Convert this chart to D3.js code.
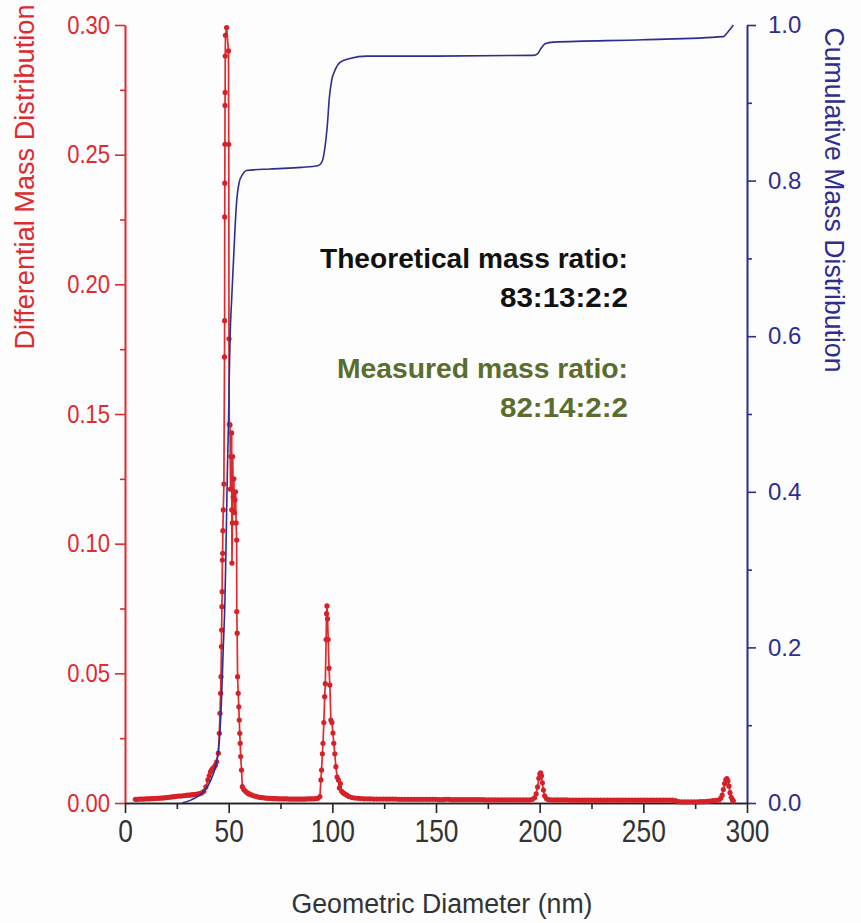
<!DOCTYPE html>
<html>
<head>
<meta charset="utf-8">
<script src="https://cdn.jsdelivr.net/npm/d3@7"></script>
<style>
  body { margin: 0; background: #fdfdfd; }
  svg { display: block; }
</style>
</head>
<body>
<div id="chart"></div>
<script>
// Differential mass distribution, [diameter nm, value]
const diffBaseLeft = [
  [5,0.0014],[6,0.0014],[7,0.0015],[8,0.0015],[9,0.0015],[10,0.0016],[11,0.0016],[12,0.0016],
  [13,0.0017],[14,0.0017],[15,0.0018],[16,0.0018],[17,0.0019],[18,0.0019],[19,0.002],[20,0.0021],
  [21,0.0022],[22,0.0023],[23,0.0024],[24,0.0025],[25,0.0026],[26,0.0027],[27,0.0027],[28,0.0028],
  [29,0.0029],[30,0.003],[31,0.003],[32,0.0031],[33,0.0032],[34,0.0033],[35,0.0034],[36,0.0036],
  [37,0.0039],[38,0.0045],[39,0.0062],[40,0.0089],[40.6,0.0105],[41.2,0.012],[41.8,0.0128],
  [42.4,0.0134],[43,0.0138],[43.6,0.0146]
];
const diffMainPeak = [
  [44.2,0.0159],[45.0,0.0192],[45.5,0.0269],[45.8,0.0346],[46.1,0.0423],[46.3,0.0487],[46.5,0.0603],
  [46.6,0.0667],[46.75,0.0757],[46.85,0.0815],[46.95,0.0937],[47.1,0.0963],[47.2,0.105],[47.4,0.113],
  [47.7,0.123],[48.0,0.172],[48.05,0.186],[48.1,0.226],[48.15,0.239],[48.2,0.254],[48.25,0.269],
  [48.3,0.274],[48.35,0.288],[48.45,0.296],[49.0,0.299],[49.9,0.29],[50.05,0.254],[50.15,0.179],
  [50.3,0.146],[50.65,0.1458],[50.9,0.121],[51.15,0.1336],[51.45,0.1427],[51.5,0.113],[51.6,0.0925],
  [51.8,0.108],[51.95,0.1336],[52.2,0.1181],[52.5,0.125],[52.8,0.112],[53.05,0.1169],[53.3,0.12],
  [53.6,0.108],[53.85,0.1014],[53.9,0.0738],[54.1,0.0655],[54.3,0.0487],[54.6,0.0423],[54.9,0.0371],
  [55.1,0.032],[55.35,0.0269],[55.55,0.023],[55.8,0.0179],[56.2,0.0127],[56.6,0.0063],[57.3,0.0052],
  [58,0.0046],[58.7,0.0041],[59.4,0.0037],[60,0.0034]
];
const diffBaseMid = [
  [61,0.0031],[62,0.0028],[63,0.0026],[64,0.0024],[65,0.0022],[66,0.0021],[67,0.002],[68,0.0019],
  [69,0.0018],[70,0.0018],[71,0.0017],[72,0.0017],[73,0.0017],[74,0.0016],[75,0.0016],[76,0.0016],
  [77,0.0016],[78,0.0016],[79,0.0015],[80,0.0015],[81,0.0015],[82,0.0015],[83,0.0015],[84,0.0015],
  [85,0.0015],[86,0.0015],[87,0.0015],[88,0.0016],[89,0.0016],[90,0.0016],[91,0.0016],[92,0.0017],
  [93,0.0018],[94,0.0025]
];
const diffPeak100 = [
  [94.5,0.0089],[94.8,0.0127],[95.2,0.019],[95.5,0.023],[95.9,0.031],[96.3,0.041],[96.6,0.046],
  [97.0,0.063],[97.2,0.073],[97.4,0.076],[97.7,0.071],[98.0,0.063],[98.4,0.052],[98.8,0.0455],
  [99.3,0.032],[99.8,0.031],[100.3,0.027],[100.7,0.023],[101.2,0.019],[101.7,0.014],[102.3,0.010],
  [102.9,0.0089],[103.4,0.0058],[103.9,0.0075],[104.5,0.0045],[105.3,0.0039],[106,0.0035],
  [107,0.003],[108,0.0025]
];
const diffBaseRight = [
  [109.5,0.0021],[111,0.0019],[112.5,0.0018],[114,0.0017],[115.5,0.0016],[117,0.0016],[118.5,0.0016],
  [120,0.0015],[121.5,0.0015],[123,0.0015],[124.5,0.0015],[126,0.0015],[127.5,0.0015],[129,0.0015],
  [130.5,0.0015],[132,0.0014],[133.5,0.0014],[135,0.0014],[136.5,0.0014],[138,0.0014],[139.5,0.0014],
  [141,0.0014],[142.5,0.0014],[144,0.0014],[145.5,0.0014],[147,0.0014],[148.5,0.0014],[150,0.0014],
  [151.5,0.0013],[153,0.0013],[154.5,0.0014],[156,0.0014],[157.5,0.0013],[159,0.0013],[160.5,0.0013],
  [162,0.0013],[163.5,0.0013],[165,0.0013],[166.5,0.0013],[168,0.0013],[169.5,0.0013],[171,0.0013],
  [172.5,0.0013],[174,0.0012],[175.5,0.0012],[177,0.0012],[178.5,0.0012],[180,0.0012],[181.5,0.0012],
  [183,0.0012],[184.5,0.0012],[186,0.0012],[187.5,0.0012],[189,0.0012],[190.5,0.0012],[192,0.0012],
  [193.5,0.0012],[195,0.0012]
];
const diffPeak200 = [
  [196.5,0.0014],[197.5,0.002],[198.3,0.0035],[199,0.0062],[199.6,0.0095],[200.1,0.0112],[200.5,0.0116],
  [200.9,0.0105],[201.3,0.0078],[201.8,0.005],[202.4,0.0028],[203.2,0.0017],[204.2,0.0013]
];
const diffBaseFar = [
  [205.5,0.0012],[207,0.0012],[208.5,0.0012],[210,0.0012],[211.5,0.0012],[213,0.0012],[214.5,0.0011],
  [216,0.0011],[217.5,0.0011],[219,0.0011],[220.5,0.0011],[222,0.0011],[223.5,0.0011],[225,0.0011],
  [226.5,0.0011],[228,0.0011],[229.5,0.0011],[231,0.0011],[232.5,0.0011],[234,0.0011],[235.5,0.0011],
  [237,0.0011],[238.5,0.0011],[240,0.0011],[241.5,0.0011],[243,0.0011],[244.5,0.0011],[246,0.0011],
  [247.5,0.0011],[249,0.0011],[250.5,0.0011],[252,0.0011],[253.5,0.0011],[255,0.0011],[256.5,0.0011],
  [258,0.0011],[259.5,0.0011],[261,0.0011],[262.5,0.0011],[264,0.0011],[265.5,0.0009],[267,0.0005],
  [268.5,0.0004],[270,0.0004],[271.5,0.0004],[273,0.0004],[274.5,0.0004],[276,0.0004],[277.5,0.0005],
  [279,0.0005],[280.5,0.0006],[282,0.0007],[283.5,0.0009],[285,0.001]
];
const diffPeak290 = [
  [286.5,0.0012],[287.3,0.0018],[288,0.003],[288.6,0.0052],[289.2,0.0075],[289.8,0.009],[290.3,0.0094],
  [290.8,0.0085],[291.3,0.0065],[291.8,0.004],[292.4,0.0022],[293.0,0.0012],[293.4,0.0008]
];

// Cumulative mass distribution, [diameter nm, value]
const cumulative = [
  [27.5,0],[32,0.004],[36,0.01],[39,0.018],[41.5,0.03],[43.5,0.045],[44.2,0.053],[45.5,0.08],
  [46.5,0.13],[47.4,0.2],[48.2,0.26],[48.8,0.34],[49.4,0.43],[50.0,0.5],[50.3,0.55],[50.7,0.6],
  [51.4,0.645],[52.2,0.69],[53,0.735],[53.9,0.775],[55,0.797],[56.5,0.807],[58.7,0.813],[70,0.815],
  [85,0.817],[93,0.819],[95,0.824],[96,0.835],[97,0.855],[97.7,0.875],[98.5,0.905],[99.7,0.929],
  [101.3,0.942],[103.7,0.952],[108.5,0.957],[116.6,0.96],[150,0.96],[197,0.961],[199,0.963],
  [200.2,0.968],[201.5,0.973],[202.6,0.976],[206.6,0.978],[250,0.981],[288.6,0.985],[290.5,0.99],
  [292,0.995],[293.4,1.0]
];

// Axis ticks
const xTicks = [0, 50, 100, 150, 200, 250, 300];
const xMinor = [25, 75, 125, 175, 225, 275];
const yLeftTicks = [0, 0.05, 0.10, 0.15, 0.20, 0.25, 0.30];
const yLeftMinor = [0.025, 0.075, 0.125, 0.175, 0.225, 0.275];
const yRightTicks = [0, 0.2, 0.4, 0.6, 0.8, 1.0];
const yRightMinor = [0.1, 0.3, 0.5, 0.7, 0.9];

const RED = '#df2a2f';
const RED_DOT = '#d62129';
const BLUE = '#2e2e8f';
const GREEN = '#5a6d2c';
const FONT = '"Liberation Sans", Arial, sans-serif';

const W = 861, H = 923;
const svg = d3.select('#chart').append('svg')
  .attr('width', W).attr('height', H)
  .style('background', '#fdfdfd');

const x = d3.scaleLinear().domain([0, 300]).range([125, 747]);
const yL = d3.scaleLinear().domain([0, 0.30]).range([803, 25]);
const yR = d3.scaleLinear().domain([0, 1]).range([803, 25]);

// squeeze text horizontally to mimic the narrow source font
function condense(sel, factor) {
  sel.each(function() {
    const w = this.getComputedTextLength();
    d3.select(this).attr('textLength', w * factor).attr('lengthAdjust', 'spacingAndGlyphs');
  });
}

// Left axis (red)
const gL = svg.append('g').attr('transform', 'translate(125,0)');
gL.call(d3.axisLeft(yL).tickValues(yLeftMinor).tickSize(5).tickSizeOuter(0).tickFormat(''));
gL.append('g').call(d3.axisLeft(yL).tickValues(yLeftTicks).tickSize(10).tickSizeOuter(0)
  .tickPadding(5).tickFormat(d3.format('.2f')));
gL.selectAll('path, line').attr('stroke', RED).attr('stroke-width', 1.6);
gL.selectAll('text').attr('fill', RED).style('font-family', FONT).style('font-size', '25px')
  .call(condense, 0.88);

// Right axis (blue)
const gR = svg.append('g').attr('transform', 'translate(747,0)');
gR.call(d3.axisRight(yR).tickValues(yRightMinor).tickSize(5).tickSizeOuter(0).tickFormat(''));
gR.append('g').call(d3.axisRight(yR).tickValues(yRightTicks).tickSize(9).tickSizeOuter(0)
  .tickPadding(12).tickFormat(d3.format('.1f')));
gR.selectAll('path, line').attr('stroke', BLUE).attr('stroke-width', 1.6);
gR.selectAll('text').attr('fill', BLUE).style('font-family', FONT).style('font-size', '24px');

// Bottom axis (black)
const gX = svg.append('g').attr('transform', 'translate(0,803)');
gX.call(d3.axisBottom(x).tickValues(xMinor).tickSize(6).tickSizeOuter(0).tickFormat(''));
gX.append('g').call(d3.axisBottom(x).tickValues(xTicks).tickSize(10).tickSizeOuter(0)
  .tickPadding(7).tickFormat(d3.format('d')));
gX.selectAll('path, line').attr('stroke', '#222').attr('stroke-width', 1.6);
gX.selectAll('text').attr('fill', '#333').style('font-family', FONT).style('font-size', '31px')
  .call(condense, 0.85);

// Axis titles
svg.append('text')
  .attr('transform', 'translate(34,177) rotate(-90)')
  .attr('text-anchor', 'middle')
  .attr('fill', RED).style('font-family', FONT).style('font-size', '27px')
  .attr('textLength', 345).attr('lengthAdjust', 'spacingAndGlyphs')
  .text('Differential Mass Distribution');

svg.append('text')
  .attr('transform', 'translate(825,200) rotate(90)')
  .attr('text-anchor', 'middle')
  .attr('fill', BLUE).style('font-family', FONT).style('font-size', '27px')
  .attr('textLength', 345).attr('lengthAdjust', 'spacingAndGlyphs')
  .text('Cumulative Mass Distribution');

svg.append('text')
  .attr('x', 442).attr('y', 913)
  .attr('text-anchor', 'middle')
  .attr('fill', '#333').style('font-family', FONT).style('font-size', '27px')
  .attr('textLength', 301).attr('lengthAdjust', 'spacingAndGlyphs')
  .text('Geometric Diameter (nm)');

// Differential series: line plus dots
const diff = [].concat(diffBaseLeft, diffMainPeak, diffBaseMid, diffPeak100,
  diffBaseRight, diffPeak200, diffBaseFar, diffPeak290);

svg.append('path')
  .datum(diff)
  .attr('fill', 'none')
  .attr('stroke', RED)
  .attr('stroke-width', 1.7)
  .attr('d', d3.line().x(d => x(d[0])).y(d => yL(d[1])));

svg.selectAll('.diff-point')
  .data(diff)
  .enter()
  .append('circle')
  .attr('class', 'diff-point')
  .attr('cx', d => x(d[0]))
  .attr('cy', d => yL(d[1]))
  .attr('r', 2.6)
  .attr('fill', RED_DOT);

// Cumulative series
svg.append('path')
  .datum(cumulative)
  .attr('fill', 'none')
  .attr('stroke', BLUE)
  .attr('stroke-width', 1.6)
  .attr('d', d3.line().x(d => x(d[0])).y(d => yR(d[1])).curve(d3.curveMonotoneX));

// Annotation
const notes = [
  { text: 'Theoretical mass ratio:', y: 268, color: '#111', len: 308 },
  { text: '83:13:2:2', y: 307, color: '#111', len: 128 },
  { text: 'Measured mass ratio:', y: 378, color: GREEN, len: 291 },
  { text: '82:14:2:2', y: 417, color: GREEN, len: 128 }
];
svg.selectAll('.note')
  .data(notes)
  .enter()
  .append('text')
  .attr('class', 'note')
  .attr('x', 628)
  .attr('y', d => d.y)
  .attr('text-anchor', 'end')
  .attr('fill', d => d.color)
  .style('font-family', FONT)
  .style('font-size', '28px')
  .style('font-weight', 'bold')
  .attr('textLength', d => d.len)
  .attr('lengthAdjust', 'spacingAndGlyphs')
  .text(d => d.text);
</script>
</body>
</html>
